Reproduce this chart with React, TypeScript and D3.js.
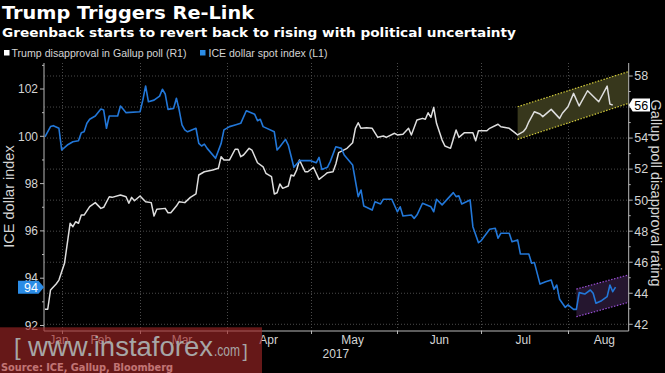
import React, { useEffect, useRef } from 'react';
import * as d3 from 'd3';

const W = 665;
const H = 373;

// ICE dollar spot index (left axis)
const usdDates = ['2017-01-26','2017-01-28','2017-01-29','2017-01-31','2017-02-01','2017-02-03','2017-02-05','2017-02-07','2017-02-08','2017-02-09','2017-02-10','2017-02-11','2017-02-13','2017-02-15','2017-02-16','2017-02-17','2017-02-18','2017-02-21','2017-02-22','2017-02-23','2017-02-24','2017-03-01','2017-03-02','2017-03-03','2017-03-04','2017-03-06','2017-03-08','2017-03-09','2017-03-10','2017-03-11','2017-03-13','2017-03-14','2017-03-15','2017-03-16','2017-03-17','2017-03-18','2017-03-21','2017-03-22','2017-03-23','2017-03-24','2017-03-25','2017-03-28','2017-03-30','2017-03-31','2017-04-02','2017-04-04','2017-04-06','2017-04-08','2017-04-11','2017-04-12','2017-04-13','2017-04-14','2017-04-18','2017-04-19','2017-04-20','2017-04-22','2017-04-23','2017-04-25','2017-04-27','2017-05-01','2017-05-03','2017-05-04','2017-05-05','2017-05-07','2017-05-08','2017-05-10','2017-05-12','2017-05-13','2017-05-16','2017-05-18','2017-05-19','2017-05-20','2017-05-23','2017-05-24','2017-05-26','2017-05-27','2017-05-30','2017-06-01','2017-06-02','2017-06-03','2017-06-06','2017-06-07','2017-06-08','2017-06-10','2017-06-13','2017-06-14','2017-06-15','2017-06-17','2017-06-21','2017-06-22','2017-06-23','2017-06-24','2017-06-27','2017-06-28','2017-06-30','2017-07-01','2017-07-04','2017-07-06','2017-07-07','2017-07-08','2017-07-11','2017-07-12','2017-07-14','2017-07-15','2017-07-18','2017-07-19','2017-07-20','2017-07-22','2017-07-24','2017-07-26','2017-07-27','2017-07-28','2017-07-29','2017-07-31','2017-08-01','2017-08-03','2017-08-04','2017-08-05','2017-08-07','2017-08-09','2017-08-10','2017-08-11','2017-08-13','2017-08-15','2017-08-16','2017-08-17','2017-08-18'];
const usdValues = [99.98,100.41,100.45,100.34,99.42,99.63,99.77,99.81,100.15,100.19,100.55,100.72,100.86,101.15,101.11,100.34,100.86,100.86,101.28,101.14,101.0,101.04,101.53,102.13,101.46,101.53,101.7,101.99,101.79,101.14,101.18,101.61,101.11,100.48,100.27,100.19,100.34,99.7,99.59,99.67,99.49,99.07,99.7,100.27,100.41,100.48,100.55,101.08,100.93,100.66,100.72,100.41,100.19,99.42,99.56,99.87,99.63,98.69,98.97,98.97,98.88,99.11,98.6,98.69,98.93,99.56,99.49,99.21,98.79,97.45,97.73,97.05,96.88,97.23,97.14,97.34,97.34,96.81,97.02,96.63,96.67,96.53,96.67,97.17,97.02,96.81,97.34,97.1,97.62,97.45,97.48,97.14,97.31,96.18,95.5,95.59,96.07,96.11,95.69,95.9,95.9,95.54,95.62,95.02,95.02,94.63,94.66,93.75,93.85,93.92,93.53,93.71,93.11,92.77,92.87,92.68,92.68,93.39,93.33,93.5,93.36,92.94,93.05,93.22,93.71,93.43,93.62];

// Trump disapproval in Gallup poll (right axis)
const pollDates = ['2017-01-26','2017-01-27','2017-01-28','2017-01-30','2017-01-31','2017-02-02','2017-02-03','2017-02-04','2017-02-05','2017-02-06','2017-02-07','2017-02-08','2017-02-09','2017-02-11','2017-02-13','2017-02-15','2017-02-16','2017-02-18','2017-02-19','2017-02-22','2017-02-24','2017-02-25','2017-02-26','2017-02-27','2017-03-01','2017-03-03','2017-03-05','2017-03-06','2017-03-07','2017-03-10','2017-03-11','2017-03-12','2017-03-14','2017-03-15','2017-03-17','2017-03-19','2017-03-21','2017-03-22','2017-03-24','2017-03-27','2017-03-29','2017-03-30','2017-03-31','2017-04-02','2017-04-04','2017-04-05','2017-04-06','2017-04-07','2017-04-09','2017-04-10','2017-04-12','2017-04-14','2017-04-15','2017-04-17','2017-04-18','2017-04-19','2017-04-20','2017-04-21','2017-04-23','2017-04-24','2017-04-25','2017-04-26','2017-04-27','2017-04-29','2017-04-30','2017-05-02','2017-05-04','2017-05-06','2017-05-07','2017-05-09','2017-05-10','2017-05-11','2017-05-14','2017-05-16','2017-05-17','2017-05-18','2017-05-19','2017-05-21','2017-05-23','2017-05-25','2017-05-27','2017-05-28','2017-05-31','2017-06-01','2017-06-03','2017-06-05','2017-06-06','2017-06-08','2017-06-10','2017-06-11','2017-06-12','2017-06-13','2017-06-14','2017-06-15','2017-06-17','2017-06-18','2017-06-20','2017-06-22','2017-06-23','2017-06-25','2017-06-28','2017-06-29','2017-06-30','2017-07-03','2017-07-04','2017-07-07','2017-07-08','2017-07-11','2017-07-13','2017-07-14','2017-07-16','2017-07-17','2017-07-18','2017-07-20','2017-07-22','2017-07-23','2017-07-26','2017-07-29','2017-07-30','2017-08-01','2017-08-03','2017-08-05','2017-08-08','2017-08-12','2017-08-15','2017-08-16','2017-08-17'];
const pollValues = [42.97,42.97,44.21,44.6,44.85,45.93,47.22,48.51,48.29,48.61,48.51,49.04,49.04,49.58,49.84,49.47,49.54,50.22,50.18,50.33,50.22,49.8,50.18,49.96,50.27,49.9,49.84,48.98,49.41,49.47,49.19,49.19,49.62,49.9,49.84,50.18,50.4,51.62,51.83,51.94,52.05,52.8,52.59,52.59,53.28,53.28,52.8,52.91,53.34,53.23,52.41,52.15,51.73,51.51,50.4,50.48,51.04,50.76,50.91,51.62,51.56,51.94,52.59,51.83,51.83,52.12,51.34,51.62,51.77,51.83,52.33,53.06,53.34,53.7,54.63,54.99,54.63,54.67,54.63,54.05,54.13,54.05,54.31,54.2,54.24,54.63,54.2,55.16,55.27,55.21,55.63,55.34,55.98,54.95,53.87,53.49,53.34,54.52,54.05,54.35,54.35,53.83,54.47,54.47,54.63,54.89,54.73,54.63,54.35,54.2,54.41,54.63,55.05,55.7,55.55,55.38,55.85,55.27,55.6,56.02,56.88,56.07,57.05,56.34,57.35,56.19,56.13];

const xStart = '2017-01-25T16:00:00Z';
const xEnd = '2017-08-22T17:00:00Z';
const leftDomain = [91.767, 103.1];
const rightDomain = [41.568, 58.838];

const leftTicks = [92, 94, 96, 98, 100, 102];
const leftMinorTicks = [93, 95, 97, 99, 101, 103];
const rightTicks = [42, 44, 46, 48, 50, 52, 54, 56, 58];
const rightMinorTicks = [43, 45, 47, 49, 51, 53, 55, 57];
const monthStarts = ['2017-02-01','2017-03-01','2017-04-01','2017-05-01','2017-06-01','2017-07-01','2017-08-01'];
const monthLabels = ['Jan','Feb','Mar','Apr','May','Jun','Jul','Aug'];
const monthLabelDates = ['2017-01-31','2017-02-15','2017-03-16','2017-04-16','2017-05-16','2017-06-16','2017-07-16','2017-08-14'];
const yearLabel = '2017';
const yearLabelDate = '2017-05-10';

// trend channels
const pollChannelDates = ['2017-07-14', xEnd];
const pollChannelUpper = [56.02, 58.29];
const pollChannelLower = [53.92, 56.24];
const usdChannelDates = ['2017-08-04', xEnd];
const usdChannelUpper = [93.54, 94.14];
const usdChannelLower = [92.37, 92.98];

const title = 'Trump Triggers Re-Link';
const subtitle = 'Greenback starts to revert back to rising with political uncertainty';
const legendPoll = 'Trump disapproval in Gallup poll (R1)';
const legendUsd = 'ICE dollar spot index (L1)';
const leftTitle = 'ICE dollar index';
const rightTitle = 'Gallup poll disapproval rating';
const source = 'Source: ICE, Gallup, Bloomberg';

const BLUE = '#2277d8';
const WHITE = '#dedede';
const TXT = '#d4d4d4';
const GRID = '#4a4a4a';
const AXIS = '#b8b8b8';
const FONT = "'Liberation Sans', Arial, sans-serif";
const BOLD = "'DejaVu Sans', Verdana, sans-serif";

export default function App() {
  const ref = useRef<SVGSVGElement>(null);

  useEffect(() => {
    document.body.style.margin = '0';
    document.body.style.background = '#000';
    const svg = d3.select(ref.current);
    svg.selectAll('*').remove();

    const L = 44, R = 628.7, T = 63, B = 331;
    const x = d3.scaleUtc().domain([new Date(xStart), new Date(xEnd)]).range([L, R]);
    const yL = d3.scaleLinear().domain(leftDomain).range([B, T]);
    const yR = d3.scaleLinear().domain(rightDomain).range([B, T]);

    svg.append('rect').attr('width', W).attr('height', H).attr('fill', '#000');

    // gridlines
    const g = svg.append('g');
    rightTicks.forEach(v => {
      g.append('line').attr('x1', L).attr('x2', R).attr('y1', yR(v)).attr('y2', yR(v))
        .attr('stroke', GRID).attr('stroke-width', 1).attr('stroke-dasharray', '1,2');
    });
    monthStarts.forEach(d => {
      const xx = Math.round(x(new Date(d))) + 0.5;
      g.append('line').attr('x1', xx).attr('x2', xx).attr('y1', T).attr('y2', B)
        .attr('stroke', GRID).attr('stroke-width', 1).attr('stroke-dasharray', '1,2');
    });

    // channels
    const channel = (dates: string[], up: number[], lo: number[], ys: any, fill: string, stroke: string) => {
      const x0 = x(new Date(dates[0])), x1 = x(new Date(dates[1]));
      svg.append('path')
        .attr('d', `M${x0},${ys(up[0])}L${x1},${ys(up[1])}L${x1},${ys(lo[1])}L${x0},${ys(lo[0])}Z`)
        .attr('fill', fill);
      [up, lo].forEach(arr => {
        svg.append('line').attr('x1', x0).attr('y1', ys(arr[0])).attr('x2', x1).attr('y2', ys(arr[1]))
          .attr('stroke', stroke).attr('stroke-width', 1.2).attr('stroke-dasharray', '1.5,1.5');
      });
    };
    channel(pollChannelDates, pollChannelUpper, pollChannelLower, yR, '#37371c', '#cfc83a');
    channel(usdChannelDates, usdChannelUpper, usdChannelLower, yL, '#25162f', '#9a4fd6');

    // series
    const poll = pollDates.map((d, i) => ({ d: new Date(d), v: pollValues[i] }));
    const usd = usdDates.map((d, i) => ({ d: new Date(d), v: usdValues[i] }));
    svg.append('path').datum(poll)
      .attr('d', d3.line<any>().x(p => x(p.d)).y(p => yR(p.v)))
      .attr('fill', 'none').attr('stroke', WHITE).attr('stroke-width', 1.5).attr('stroke-linejoin', 'round');
    svg.append('path').datum(usd)
      .attr('d', d3.line<any>().x(p => x(p.d)).y(p => yL(p.v)))
      .attr('fill', 'none').attr('stroke', BLUE).attr('stroke-width', 1.6).attr('stroke-linejoin', 'round');

    // axes lines
    svg.append('line').attr('x1', L).attr('x2', L).attr('y1', T).attr('y2', B).attr('stroke', AXIS);
    svg.append('line').attr('x1', R).attr('x2', R).attr('y1', T).attr('y2', B).attr('stroke', AXIS);
    svg.append('line').attr('x1', L).attr('x2', R).attr('y1', B).attr('y2', B).attr('stroke', AXIS);

    // left ticks
    leftTicks.forEach(v => {
      svg.append('line').attr('x1', L - 4).attr('x2', L).attr('y1', yL(v)).attr('y2', yL(v)).attr('stroke', AXIS);
      svg.append('text').attr('x', L - 6).attr('y', yL(v)).attr('dy', '0.35em').attr('text-anchor', 'end')
        .attr('font-family', FONT).attr('font-size', 12).attr('fill', TXT).text(v);
    });
    leftMinorTicks.forEach(v => {
      svg.append('line').attr('x1', L - 2).attr('x2', L).attr('y1', yL(v)).attr('y2', yL(v)).attr('stroke', AXIS);
    });
    // right ticks
    rightTicks.forEach(v => {
      svg.append('line').attr('x1', R).attr('x2', R + 4).attr('y1', yR(v)).attr('y2', yR(v)).attr('stroke', AXIS);
      svg.append('text').attr('x', R + 5.5).attr('y', yR(v)).attr('dy', '0.35em').attr('text-anchor', 'start')
        .attr('font-family', FONT).attr('font-size', 12.5).attr('fill', TXT).text(v);
    });
    rightMinorTicks.forEach(v => {
      svg.append('line').attr('x1', R).attr('x2', R + 2).attr('y1', yR(v)).attr('y2', yR(v)).attr('stroke', AXIS);
    });
    // month ticks
    monthStarts.forEach(d => {
      const xx = Math.round(x(new Date(d))) + 0.5;
      svg.append('line').attr('x1', xx).attr('x2', xx).attr('y1', B).attr('y2', B + 3).attr('stroke', AXIS);
    });
    monthLabels.forEach((m, i) => {
      svg.append('text').attr('x', x(new Date(monthLabelDates[i]))).attr('y', 344)
        .attr('text-anchor', 'middle').attr('font-family', FONT).attr('font-size', 12).attr('fill', TXT).text(m);
    });
    svg.append('text').attr('x', x(new Date(yearLabelDate))).attr('y', 357.5)
      .attr('text-anchor', 'middle').attr('font-family', FONT).attr('font-size', 12).attr('fill', TXT).text(yearLabel);

    // axis titles
    svg.append('text').attr('transform', `translate(14,196.5) rotate(-90)`).attr('text-anchor', 'middle')
      .attr('font-family', FONT).attr('font-size', 14.5).attr('fill', TXT).text(leftTitle);
    svg.append('text').attr('transform', `translate(651,193) rotate(90)`).attr('text-anchor', 'middle')
      .attr('font-family', FONT).attr('font-size', 14.5).attr('fill', TXT).text(rightTitle);

    // last value flags
    const lastUsd = usdValues[usdValues.length - 1];
    const cyL = yL(lastUsd);
    svg.append('path').attr('d', `M18,${cyL - 6.5}H38.5L${L},${cyL}L38.5,${cyL + 6.5}H18Z`).attr('fill', '#2b8ce6');
    svg.append('text').attr('x', 38).attr('y', cyL).attr('dy', '0.36em').attr('text-anchor', 'end')
      .attr('font-family', FONT).attr('font-size', 12.5).attr('fill', '#fff').text(Math.round(lastUsd));
    const lastPoll = pollValues[pollValues.length - 1];
    const cyR = yR(lastPoll);
    svg.append('path').attr('d', `M${R},${cyR}L${R + 4},${cyR - 6.5}H650V${cyR + 6.5}H${R + 4}Z`).attr('fill', '#fff');
    svg.append('text').attr('x', R + 5.5).attr('y', cyR).attr('dy', '0.36em').attr('text-anchor', 'start')
      .attr('font-family', FONT).attr('font-size', 12.5).attr('fill', '#000').text(Math.round(lastPoll));

    // titles
    svg.append('text').attr('x', 2).attr('y', 18.5).attr('font-family', BOLD).attr('font-weight', 'bold')
      .attr('font-size', 17).attr('fill', '#fff').attr('textLength', 252).attr('lengthAdjust', 'spacingAndGlyphs').text(title);
    svg.append('text').attr('x', 2).attr('y', 36.5).attr('font-family', BOLD).attr('font-weight', 'bold')
      .attr('font-size', 13).attr('fill', '#fff').attr('textLength', 514).attr('lengthAdjust', 'spacingAndGlyphs').text(subtitle);

    // legend
    svg.append('rect').attr('x', 4).attr('y', 50).attr('width', 5.5).attr('height', 5.5).attr('fill', '#fff');
    svg.append('text').attr('x', 11.5).attr('y', 56.5).attr('font-family', FONT).attr('font-size', 10)
      .attr('fill', TXT).attr('textLength', 175).attr('lengthAdjust', 'spacingAndGlyphs').text(legendPoll);
    svg.append('rect').attr('x', 200).attr('y', 50).attr('width', 5.5).attr('height', 5.5).attr('fill', '#2b8ce6');
    svg.append('text').attr('x', 208.5).attr('y', 56.5).attr('font-family', FONT).attr('font-size', 10)
      .attr('fill', TXT).attr('textLength', 119).attr('lengthAdjust', 'spacingAndGlyphs').text(legendUsd);

    // source
    svg.append('text').attr('x', 1).attr('y', 371).attr('font-family', BOLD).attr('font-weight', 'bold')
      .attr('font-size', 10.5).attr('fill', '#fff').attr('textLength', 172).attr('lengthAdjust', 'spacingAndGlyphs').text(source);

    // watermark overlay
    svg.append('rect').attr('x', 0).attr('y', 327.3).attr('width', 262).attr('height', H - 327.3)
      .attr('fill', 'rgb(160,38,38)').attr('opacity', 0.64);
    const wm = svg.append('g').attr('fill', '#a6a6a6').attr('font-family', FONT);
    wm.append('text').attr('x', 14).attr('y', 355).attr('font-size', 24).text('[');
    wm.append('text').attr('x', 28).attr('y', 356).attr('font-size', 27)
      .attr('textLength', 185).attr('lengthAdjust', 'spacingAndGlyphs').text('www.instaforex');
    wm.append('text').attr('x', 214).attr('y', 356).attr('font-size', 16)
      .attr('textLength', 26).attr('lengthAdjust', 'spacingAndGlyphs').text('.com');
    wm.append('text').attr('x', 242.5).attr('y', 357).attr('font-size', 19).text(']');
  }, []);

  return <svg ref={ref} width={W} height={H} style={{ display: 'block', position: 'absolute', left: 0, top: 0 }} />;
}
